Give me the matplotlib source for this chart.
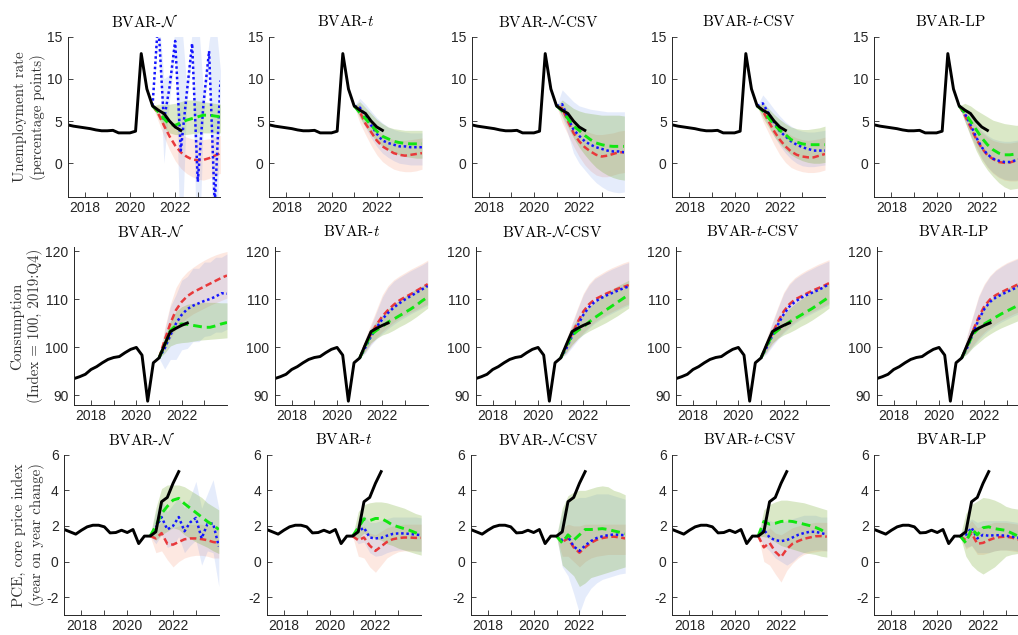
import numpy as np
import matplotlib
matplotlib.use('Agg')
import matplotlib.pyplot as plt
from matplotlib.ticker import FixedLocator

plt.rcParams['mathtext.fontset'] = 'cm'
plt.rcParams['axes.unicode_minus'] = False

models = ['BVAR-N', 'BVAR-t', 'BVAR-N-CSV', 'BVAR-t-CSV', 'BVAR-LP']
titles = [r'BVAR-$\mathcal{N}$', r'BVAR-$t$', r'BVAR-$\mathcal{N}$-CSV', r'BVAR-$t$-CSV', 'BVAR-LP']

# quarterly dates: history 2017.25 .. 2022.25, forecasts 2021.0 .. 2024.0
hist_start = 2017.25
fc_start = 2021.0

unemp_hist = [4.55, 4.4, 4.3, 4.2, 4.1, 3.95, 3.85, 3.85, 3.9, 3.6, 3.6, 3.6, 3.8, 13.0, 8.8, 6.8, 6.3, 5.9, 5.0, 4.3, 3.9]
cons_hist = [93.5, 93.9, 94.4, 95.4, 96.0, 96.8, 97.5, 97.9, 98.1, 98.9, 99.6, 100.0, 98.4, 88.8, 96.8, 97.8, 100.6, 103.3, 104.0, 104.6, 105.1]
pce_hist = [1.8, 1.67, 1.54, 1.76, 1.95, 2.04, 2.04, 1.95, 1.61, 1.63, 1.76, 1.63, 1.8, 1.01, 1.43, 1.43, 1.67, 3.36, 3.6, 4.39, 5.05]

# (median, lower, upper) per model
unemp_red = {
    'BVAR-N': ([6.8, 5.9, 4.5, 3.2, 2.1, 1.3, 0.8, 0.45, 0.35, 0.4, 0.6, 0.9, 1.2],
               [6.8, 5.0, 3.2, 1.6, 0.3, -0.6, -1.2, -1.6, -1.9, -2.0, -1.8, -1.5, -1.2],
               [6.8, 6.8, 5.8, 4.9, 4.1, 3.5, 3.1, 2.9, 2.8, 2.8, 2.9, 3.1, 3.3]),
    'BVAR-t': ([6.8, 6.1, 4.7, 3.7, 2.7, 2.0, 1.6, 1.2, 1.0, 0.9, 1.0, 1.1, 1.2],
               [6.8, 4.8, 3.4, 2.1, 1.0, 0.2, -0.3, -0.7, -0.9, -1.0, -1.0, -0.9, -0.7],
               [6.8, 7.0, 6.0, 5.0, 4.1, 3.5, 3.0, 2.8, 2.7, 2.7, 2.8, 2.9, 3.0]),
    'BVAR-N-CSV': ([6.8, 6.5, 5.0, 3.6, 2.6, 1.9, 1.4, 1.0, 0.8, 0.9, 1.1, 1.3, 1.3],
                   [6.8, 4.8, 3.4, 2.0, 0.8, -0.2, -0.9, -1.4, -1.6, -1.6, -1.4, -1.2, -1.1],
                   [6.8, 7.2, 6.2, 5.2, 4.4, 3.9, 3.6, 3.4, 3.4, 3.5, 3.6, 3.8, 3.9]),
    'BVAR-t-CSV': ([6.8, 6.2, 5.0, 3.8, 2.8, 2.0, 1.4, 1.0, 0.8, 0.7, 0.7, 0.9, 1.1],
                   [6.8, 5.0, 3.6, 2.2, 1.0, 0.1, -0.5, -0.8, -1.0, -1.1, -1.1, -1.0, -0.8],
                   [6.8, 7.0, 6.2, 5.2, 4.4, 3.8, 3.3, 3.0, 2.8, 2.7, 2.8, 2.9, 3.1]),
    'BVAR-LP': ([6.8, 5.7, 4.3, 2.9, 1.8, 0.95, 0.5, 0.15, 0.05, 0.1, 0.3, 0.5, 0.7],
                [6.8, 5.0, 3.3, 1.8, 0.5, -0.5, -1.2, -1.7, -2.0, -2.1, -2.1, -2.0, -1.9],
                [6.8, 6.5, 5.5, 4.5, 3.7, 3.1, 2.7, 2.5, 2.4, 2.4, 2.5, 2.6, 2.7]),
}
unemp_blue = {
    'BVAR-N': ([6.8, 17.0, 5.0, 9.0, 14.5, 1.5, 8.0, 14.2, -2.2, 7.0, 13.3, -5.0, 9.8],
               [6.8, 15.5, 0.0, 7.5, 13.0, -12.0, 6.5, 13.0, -16.0, 5.5, 12.0, -20.0, 8.5],
               [6.8, 18.5, 10.0, 10.5, 16.0, 18.0, 9.5, 15.5, 18.0, 8.5, 14.5, 18.0, 11.0]),
    'BVAR-t': ([6.8, 6.6, 5.7, 4.5, 3.5, 2.7, 2.4, 2.2, 2.0, 2.0, 1.9, 1.9, 1.9],
               [6.8, 5.5, 4.2, 3.0, 2.0, 1.2, 0.7, 0.3, 0.0, -0.1, -0.2, -0.2, -0.2],
               [6.8, 7.7, 7.0, 6.2, 5.4, 4.8, 4.3, 4.0, 3.8, 3.7, 3.6, 3.6, 3.6]),
    'BVAR-N-CSV': ([6.8, 7.0, 5.4, 4.0, 3.25, 2.6, 2.2, 1.9, 1.7, 1.5, 1.4, 1.4, 1.3],
                   [6.8, 5.5, 3.5, 1.2, 0.0, -0.8, -1.6, -2.3, -2.8, -3.2, -3.4, -3.5, -3.4],
                   [6.8, 8.7, 8.0, 7.3, 6.8, 6.6, 6.4, 6.3, 6.2, 6.1, 6.1, 6.1, 6.1]),
    'BVAR-t-CSV': ([6.8, 7.1, 5.95, 4.8, 3.8, 3.2, 2.6, 2.2, 1.9, 1.7, 1.5, 1.5, 1.5],
                   [6.8, 5.8, 4.5, 3.2, 2.1, 1.2, 0.5, 0.0, -0.3, -0.4, -0.4, -0.3, -0.2],
                   [6.8, 8.1, 7.3, 6.4, 5.6, 4.9, 4.4, 4.0, 3.8, 3.7, 3.7, 3.8, 3.9]),
    'BVAR-LP': ([6.8, 5.9, 4.6, 3.1, 1.9, 1.05, 0.55, 0.3, 0.15, 0.15, 0.35, 0.5, 0.7],
                [6.8, 5.0, 3.4, 2.0, 0.6, -0.4, -1.1, -1.6, -1.9, -2.0, -2.0, -1.9, -1.8],
                [6.8, 6.6, 5.6, 4.7, 3.9, 3.3, 2.9, 2.7, 2.6, 2.6, 2.7, 2.8, 2.9]),
}
unemp_green = {
    'BVAR-N': ([6.8, 6.1, 5.3, 4.6, 4.5, 4.8, 5.1, 5.3, 5.5, 5.7, 5.7, 5.6, 5.5],
               [6.8, 5.4, 4.2, 3.6, 3.4, 3.4, 3.4, 3.5, 3.6, 3.6, 3.6, 3.6, 3.6],
               [6.8, 7.0, 7.0, 7.0, 7.1, 7.3, 7.5, 7.5, 7.4, 7.3, 7.2, 7.1, 7.0]),
    'BVAR-t': ([6.8, 6.0, 5.3, 4.5, 3.8, 3.2, 2.9, 2.6, 2.45, 2.35, 2.3, 2.3, 2.3],
               [6.8, 5.4, 4.4, 3.4, 2.6, 2.0, 1.6, 1.2, 1.0, 0.8, 0.7, 0.6, 0.6],
               [6.8, 7.3, 6.6, 5.9, 5.2, 4.7, 4.3, 4.1, 4.0, 3.9, 3.9, 3.9, 3.9]),
    'BVAR-N-CSV': ([6.8, 6.2, 5.3, 4.4, 3.9, 3.3, 2.8, 2.4, 2.2, 2.05, 2.0, 2.0, 2.0],
                   [6.8, 5.6, 4.3, 3.0, 1.9, 1.0, 0.2, -0.5, -1.0, -1.4, -1.7, -1.9, -2.0],
                   [6.8, 7.5, 7.0, 6.5, 6.2, 6.0, 5.9, 5.8, 5.7, 5.7, 5.7, 5.7, 5.6]),
    'BVAR-t-CSV': ([6.8, 6.2, 5.4, 4.6, 3.9, 3.4, 2.8, 2.5, 2.3, 2.2, 2.2, 2.2, 2.2],
                   [6.8, 5.4, 4.3, 3.2, 2.3, 1.6, 1.0, 0.6, 0.3, 0.1, 0.0, 0.0, 0.1],
                   [6.8, 7.2, 6.5, 5.8, 5.2, 4.7, 4.3, 4.1, 4.0, 4.0, 4.1, 4.2, 4.4]),
    'BVAR-LP': ([6.8, 6.0, 5.0, 4.0, 3.0, 2.2, 1.6, 1.2, 1.0, 1.0, 1.1, 1.2, 1.3],
                [6.8, 5.0, 3.2, 1.5, 0.2, -0.8, -1.6, -2.3, -2.8, -3.1, -3.0, -2.9, -2.7],
                [6.8, 7.1, 6.8, 6.3, 5.9, 5.5, 5.1, 4.9, 4.7, 4.6, 4.5, 4.5, 4.5]),
}

cons_red = {
    'BVAR-N': ([97.8, 101.5, 105.0, 107.8, 109.5, 110.7, 111.5, 112.1, 112.7, 113.3, 113.9, 114.5, 115.0],
               [97.8, 99.5, 101.8, 103.8, 105.2, 106.2, 107.0, 107.6, 108.2, 108.8, 109.3, 109.8, 110.3],
               [97.8, 104.0, 109.0, 112.5, 114.5, 115.8, 116.7, 117.5, 118.2, 118.8, 119.3, 119.7, 120.0]),
    'BVAR-t': ([97.8, 100.6, 102.8, 104.8, 106.5, 107.8, 108.9, 109.8, 110.5, 111.1, 111.8, 112.5, 113.2],
               [97.8, 99.0, 100.7, 102.1, 103.3, 104.3, 105.2, 106.0, 106.7, 107.3, 107.9, 108.5, 109.1],
               [97.8, 102.0, 105.0, 108.0, 111.0, 112.9, 114.1, 114.9, 115.6, 116.3, 116.9, 117.5, 118.2]),
    'BVAR-N-CSV': ([97.8, 100.3, 102.8, 105.3, 107.5, 109.0, 110.0, 110.6, 111.2, 111.7, 112.2, 112.6, 113.0],
                   [97.8, 98.8, 100.3, 101.8, 103.1, 104.3, 105.3, 106.1, 106.8, 107.4, 108.0, 108.6, 109.1],
                   [97.8, 101.8, 105.1, 108.3, 111.3, 113.3, 114.6, 115.3, 116.0, 116.6, 117.1, 117.6, 118.0]),
    'BVAR-t-CSV': ([97.8, 100.5, 102.9, 105.4, 107.5, 109.0, 110.0, 110.6, 111.2, 111.8, 112.3, 112.8, 113.4],
                   [97.8, 98.9, 100.5, 102.0, 103.3, 104.4, 105.3, 106.1, 106.8, 107.4, 108.0, 108.6, 109.2],
                   [97.8, 102.0, 105.3, 108.5, 111.5, 113.4, 114.6, 115.4, 116.1, 116.7, 117.3, 117.8, 118.3]),
    'BVAR-LP': ([97.8, 100.5, 103.5, 106.3, 108.6, 110.0, 110.9, 111.5, 112.1, 112.6, 113.2, 113.7, 114.2],
                [97.8, 98.9, 100.5, 102.0, 103.2, 104.2, 105.0, 105.7, 106.3, 106.9, 107.4, 108.0, 108.5],
                [97.8, 102.8, 106.8, 110.8, 113.3, 115.0, 116.2, 117.0, 117.7, 118.2, 118.7, 119.2, 119.6]),
}
cons_blue = {
    'BVAR-N': ([97.8, 99.8, 102.5, 105.0, 106.8, 108.0, 108.7, 109.2, 109.7, 110.1, 110.6, 111.3, 111.2],
               [97.8, 95.5, 97.5, 97.5, 99.5, 99.8, 101.2, 101.2, 102.3, 102.5, 103.2, 103.2, 103.8],
               [97.8, 103.5, 108.5, 111.0, 114.0, 114.8, 116.5, 116.5, 117.8, 117.8, 118.8, 118.8, 119.5]),
    'BVAR-t': ([97.8, 100.0, 102.3, 104.2, 105.9, 107.2, 108.3, 109.2, 110.0, 110.7, 111.4, 112.1, 112.8],
               [97.8, 98.8, 100.5, 101.8, 102.9, 103.9, 104.8, 105.6, 106.3, 107.0, 107.6, 108.2, 108.8],
               [97.8, 101.5, 104.5, 107.5, 110.5, 112.5, 113.8, 114.6, 115.3, 116.0, 116.6, 117.2, 117.9]),
    'BVAR-N-CSV': ([97.8, 99.8, 102.3, 104.6, 106.8, 108.4, 109.5, 110.2, 110.8, 111.3, 111.8, 112.3, 112.7],
                   [97.8, 98.5, 100.0, 101.5, 102.8, 104.0, 105.0, 105.8, 106.5, 107.1, 107.7, 108.3, 108.8],
                   [97.8, 101.5, 104.8, 108.0, 111.0, 113.0, 114.3, 115.0, 115.7, 116.3, 116.8, 117.3, 117.7]),
    'BVAR-t-CSV': ([97.8, 100.0, 102.4, 104.8, 106.9, 108.5, 109.5, 110.3, 110.9, 111.4, 111.9, 112.5, 113.2],
                   [97.8, 98.6, 100.2, 101.7, 103.0, 104.1, 105.0, 105.8, 106.5, 107.1, 107.7, 108.3, 108.9],
                   [97.8, 101.7, 105.0, 108.2, 111.2, 113.1, 114.3, 115.1, 115.8, 116.4, 117.0, 117.5, 118.0]),
    'BVAR-LP': ([97.8, 100.0, 103.0, 105.8, 108.0, 109.5, 110.4, 111.0, 111.6, 112.1, 112.7, 113.2, 113.7],
                [97.8, 98.7, 100.2, 101.6, 102.8, 103.8, 104.6, 105.3, 105.9, 106.5, 107.0, 107.6, 108.1],
                [97.8, 102.5, 106.5, 110.5, 113.0, 114.8, 116.0, 116.8, 117.5, 118.0, 118.5, 119.0, 119.4]),
}
cons_green = {
    'BVAR-N': ([97.8, 100.5, 103.5, 104.6, 104.9, 104.8, 104.6, 104.4, 104.2, 104.2, 104.5, 104.9, 105.2],
               [97.8, 98.8, 100.3, 100.8, 101.0, 101.1, 101.3, 101.5, 101.6, 101.7, 101.8, 101.9, 102.0],
               [97.8, 102.0, 105.5, 107.5, 108.5, 109.0, 109.2, 109.3, 109.4, 109.4, 109.4, 109.3, 109.3]),
    'BVAR-t': ([97.8, 100.3, 102.7, 103.6, 104.4, 105.3, 105.9, 106.6, 107.3, 108.0, 108.8, 109.7, 110.5],
               [97.8, 99.3, 101.0, 101.9, 102.6, 103.0, 103.6, 104.3, 104.9, 105.6, 106.4, 107.3, 108.2],
               [97.8, 101.5, 104.0, 105.5, 106.8, 108.0, 109.0, 109.9, 110.7, 111.5, 112.2, 112.8, 113.4]),
    'BVAR-N-CSV': ([97.8, 100.3, 102.5, 103.5, 104.3, 105.3, 106.2, 107.0, 107.8, 108.6, 109.4, 110.2, 111.0],
                   [97.8, 99.0, 100.6, 101.8, 102.7, 103.4, 104.0, 104.6, 105.2, 105.9, 106.6, 107.4, 108.2],
                   [97.8, 101.5, 104.3, 106.0, 107.4, 108.5, 109.5, 110.5, 111.3, 112.1, 112.8, 113.4, 114.0]),
    'BVAR-t-CSV': ([97.8, 100.3, 102.6, 103.6, 104.5, 105.3, 106.0, 106.7, 107.4, 108.1, 108.9, 109.7, 110.5],
                   [97.8, 99.2, 100.9, 101.9, 102.6, 103.1, 103.7, 104.4, 105.0, 105.7, 106.5, 107.3, 108.2],
                   [97.8, 101.5, 104.0, 105.6, 106.9, 108.1, 109.1, 110.0, 110.8, 111.6, 112.3, 112.9, 113.5]),
    'BVAR-LP': ([97.8, 100.3, 102.8, 104.0, 104.9, 105.6, 106.3, 107.0, 107.6, 108.2, 108.8, 109.4, 110.0],
                [97.8, 98.7, 100.0, 101.0, 102.0, 102.8, 103.5, 104.1, 104.6, 105.1, 105.6, 106.1, 106.5],
                [97.8, 101.5, 104.5, 106.8, 108.6, 109.8, 110.8, 111.6, 112.3, 113.0, 113.6, 114.2, 114.8]),
}

pce_red = {
    'BVAR-N': ([1.43, 1.3, 1.6, 1.0, 0.95, 1.1, 1.25, 1.3, 1.3, 1.26, 1.2, 1.1, 1.05],
               [1.43, 0.5, 0.6, 0.1, -0.3, 0.0, 0.2, 0.3, 0.35, 0.35, 0.3, 0.2, 0.2],
               [1.43, 1.9, 2.2, 2.0, 1.9, 2.0, 2.1, 2.1, 2.1, 2.1, 2.0, 2.0, 1.9]),
    'BVAR-t': ([1.43, 1.2, 1.35, 0.9, 0.6, 0.85, 1.1, 1.25, 1.32, 1.35, 1.35, 1.33, 1.33],
               [1.43, 0.3, 0.2, -0.3, -0.6, -0.2, 0.2, 0.4, 0.55, 0.6, 0.6, 0.6, 0.6],
               [1.43, 1.8, 2.0, 1.6, 1.5, 1.7, 1.9, 2.0, 2.05, 2.1, 2.1, 2.1, 2.1]),
    'BVAR-N-CSV': ([1.43, 1.1, 1.3, 0.8, 0.5, 0.8, 1.05, 1.22, 1.32, 1.38, 1.4, 1.36, 1.3],
                   [1.43, 0.3, 0.3, 0.0, -0.3, 0.0, 0.2, 0.3, 0.35, 0.4, 0.4, 0.4, 0.4],
                   [1.43, 1.9, 2.1, 2.0, 2.0, 2.1, 2.1, 2.1, 2.1, 2.1, 2.1, 2.1, 2.1]),
    'BVAR-t-CSV': ([1.43, 0.8, 1.05, 0.55, 0.25, 0.7, 1.0, 1.15, 1.28, 1.35, 1.42, 1.43, 1.4],
                   [1.43, 0.0, -0.2, -0.7, -1.15, -0.5, -0.1, 0.2, 0.4, 0.5, 0.55, 0.6, 0.6],
                   [1.43, 1.6, 1.9, 1.6, 1.5, 1.7, 1.9, 2.0, 2.1, 2.15, 2.2, 2.2, 2.2]),
    'BVAR-LP': ([1.43, 1.2, 1.6, 1.0, 1.05, 1.2, 1.32, 1.38, 1.4, 1.35, 1.25, 1.2, 1.15],
                [1.43, 0.7, 0.9, 0.4, 0.4, 0.5, 0.6, 0.65, 0.65, 0.6, 0.55, 0.5, 0.45],
                [1.43, 1.9, 2.3, 1.9, 2.0, 2.1, 2.2, 2.2, 2.2, 2.15, 2.1, 2.05, 2.0]),
}
pce_blue = {
    'BVAR-N': ([1.43, 1.9, 2.5, 1.8, 2.0, 2.5, 1.7, 2.2, 2.45, 1.3, 2.1, 2.15, 0.85],
               [1.43, 1.0, 1.5, 0.8, 0.9, 1.4, 0.5, 0.9, 1.2, -0.2, 0.6, 0.5, -1.4],
               [1.43, 2.8, 3.5, 2.8, 3.2, 3.6, 3.0, 3.6, 4.5, 3.0, 3.8, 4.6, 3.0]),
    'BVAR-t': ([1.43, 1.7, 1.9, 1.35, 1.3, 1.33, 1.45, 1.55, 1.58, 1.58, 1.55, 1.52, 1.48],
               [1.43, 1.0, 1.1, 0.5, 0.3, 0.35, 0.5, 0.6, 0.65, 0.65, 0.65, 0.6, 0.55],
               [1.43, 2.3, 2.6, 2.2, 2.2, 2.3, 2.4, 2.5, 2.5, 2.5, 2.5, 2.5, 2.45]),
    'BVAR-N-CSV': ([1.43, 1.2, 1.4, 0.85, 0.6, 0.9, 1.15, 1.32, 1.42, 1.48, 1.52, 1.5, 1.48],
                   [1.43, -0.3, -0.8, -1.8, -2.9, -2.0, -1.5, -1.2, -1.0, -0.9, -0.8, -0.7, -0.65],
                   [1.43, 2.8, 3.3, 3.5, 3.6, 3.6, 3.7, 3.8, 3.8, 3.8, 3.7, 3.6, 3.5]),
    'BVAR-t-CSV': ([1.43, 1.8, 1.35, 1.2, 1.15, 1.2, 1.35, 1.5, 1.6, 1.67, 1.67, 1.6, 1.52],
                   [1.43, 0.9, 0.6, 0.2, 0.0, -0.2, 0.0, 0.3, 0.5, 0.6, 0.65, 0.65, 0.6],
                   [1.43, 2.5, 2.3, 2.2, 2.2, 2.3, 2.4, 2.5, 2.6, 2.6, 2.6, 2.5, 2.5]),
    'BVAR-LP': ([1.43, 1.5, 1.9, 1.3, 1.5, 1.45, 1.48, 1.48, 1.45, 1.4, 1.35, 1.3, 1.28],
                [1.43, 0.8, 0.9, 0.5, 0.5, 0.5, 0.6, 0.65, 0.65, 0.65, 0.6, 0.55, 0.5],
                [1.43, 2.1, 2.4, 2.2, 2.3, 2.3, 2.3, 2.3, 2.3, 2.25, 2.2, 2.15, 2.1]),
}
pce_green = {
    'BVAR-N': ([1.43, 2.0, 2.7, 3.1, 3.45, 3.55, 3.25, 3.0, 2.75, 2.5, 2.25, 2.05, 1.8],
               [1.43, 1.2, 1.5, 1.7, 1.9, 1.8, 1.5, 1.3, 1.1, 0.95, 0.8, 0.6, 0.45],
               [1.43, 3.0, 4.1, 4.3, 4.3, 4.3, 4.2, 4.0, 3.8, 3.6, 3.3, 3.1, 2.9]),
    'BVAR-t': ([1.43, 1.9, 2.4, 2.3, 2.42, 2.42, 2.25, 2.05, 1.95, 1.85, 1.75, 1.62, 1.5],
               [1.43, 1.3, 1.6, 1.4, 1.3, 1.2, 1.0, 0.9, 0.75, 0.65, 0.55, 0.45, 0.36],
               [1.43, 2.8, 3.2, 3.3, 3.35, 3.35, 3.3, 3.2, 3.1, 3.0, 2.85, 2.7, 2.6]),
    'BVAR-N-CSV': ([1.43, 1.05, 1.5, 1.2, 1.5, 1.8, 1.8, 1.82, 1.85, 1.8, 1.72, 1.65, 1.58],
                   [1.43, -0.2, -0.5, -0.8, -1.4, -1.2, -0.9, -0.8, -0.7, -0.6, -0.5, -0.4, -0.3],
                   [1.43, 3.0, 3.7, 3.9, 4.0, 4.0, 4.1, 4.2, 4.25, 4.2, 4.0, 3.9, 3.75]),
    'BVAR-t-CSV': ([1.43, 2.25, 2.1, 2.15, 2.25, 2.28, 2.25, 2.18, 2.1, 2.02, 1.92, 1.78, 1.58],
                   [1.43, 1.4, 1.3, 1.1, 0.9, 0.8, 0.7, 0.6, 0.5, 0.45, 0.4, 0.3, 0.25],
                   [1.43, 2.9, 3.2, 3.35, 3.45, 3.45, 3.4, 3.35, 3.3, 3.2, 3.1, 3.0, 2.9]),
    'BVAR-LP': ([1.43, 1.05, 1.85, 1.5, 1.9, 1.95, 1.85, 1.8, 1.75, 1.6, 1.45, 1.35, 1.3],
                [1.43, 0.3, -0.2, -0.5, -0.7, -0.5, -0.3, 0.0, 0.3, 0.4, 0.45, 0.5, 0.5],
                [1.43, 2.7, 3.2, 3.4, 3.6, 3.55, 3.45, 3.3, 3.1, 3.0, 2.95, 2.9, 2.85]),
}

rows = [
    dict(hist=unemp_hist, red=unemp_red, blue=unemp_blue, green=unemp_green,
         ylim=(-4, 15), yticks=[0, 5, 10, 15],
         ylabel='Unemployment rate\n(percentage points)'),
    dict(hist=cons_hist, red=cons_red, blue=cons_blue, green=cons_green,
         ylim=(88, 121), yticks=[90, 100, 110, 120],
         ylabel='Consumption\n(Index = 100, 2019:Q4)'),
    dict(hist=pce_hist, red=pce_red, blue=pce_blue, green=pce_green,
         ylim=(-3, 6), yticks=[-2, 0, 2, 4, 6],
         ylabel='PCE, core price index\n(year on year change)'),
]

# axes placement in pixels (figure is 1018 x 635)
W, H = 1018, 635
row_lefts = [[67.7, 269.3, 471.7, 672.3, 874.3],
             [74.0, 274.7, 475.7, 676.0, 876.7],
             [64.3, 266.7, 470.7, 672.3, 874.3]]
row_widths = [152.7, 153.0, 154.5]
row_tops = [36.7, 246.7, 454.7]
row_bottoms = [197.0, 405.0, 615.0]
label_x = [-0.14, -0.20, -0.128]

RED, BLUE, GREEN = '#e8393b', '#1414ff', '#11e611'
RED_BAND, BLUE_BAND, GREEN_BAND = '#f46a3a', '#4d79e8', '#77ac30'
AXC = '#262626'

fig = plt.figure(figsize=(W / 100, H / 100), dpi=100)

for r, row in enumerate(rows):
    for c, m in enumerate(models):
        left = row_lefts[r][c] / W
        bottom = 1 - row_bottoms[r] / H
        ax = fig.add_axes([left, bottom, row_widths[r] / W, (row_bottoms[r] - row_tops[r]) / H])

        th = hist_start + 0.25 * np.arange(len(row['hist']))
        mid_r, lo_r, hi_r = row['red'][m]
        mid_b, lo_b, hi_b = row['blue'][m]
        mid_g, lo_g, hi_g = row['green'][m]
        tf = fc_start + 0.25 * np.arange(len(mid_r))

        ax.fill_between(tf, lo_r, hi_r, color=RED_BAND, alpha=0.15, lw=0)
        ax.fill_between(tf, lo_b, hi_b, color=BLUE_BAND, alpha=0.14, lw=0)
        ax.fill_between(tf, lo_g, hi_g, color=GREEN_BAND, alpha=0.27, lw=0)

        ax.plot(tf, mid_r, color=RED, lw=1.8, dashes=(2.6, 1.4))
        ax.plot(tf, mid_b, color=BLUE, lw=1.8, dashes=(1.0, 1.1))
        ax.plot(tf, mid_g, color=GREEN, lw=2.1, dashes=(3.0, 1.7))
        ax.plot(th, row['hist'], color='k', lw=2.1, solid_joinstyle='round')

        ax.set_xlim(2017.25, 2024.0)
        ax.set_ylim(*row['ylim'])
        ax.xaxis.set_major_locator(FixedLocator([2018, 2020, 2022]))
        ax.xaxis.set_minor_locator(FixedLocator([2019, 2021, 2023]))
        ax.set_yticks(row['yticks'])
        ax.tick_params(which='both', direction='in', length=3.5, width=0.6,
                       color=AXC, labelcolor=AXC, labelsize=10)
        ax.tick_params(axis='y', pad=4)
        ax.tick_params(axis='x', pad=3)
        for lab in ax.get_xticklabels() + ax.get_yticklabels():
            lab.set_fontfamily('Liberation Sans')
        for s in ['top', 'right']:
            ax.spines[s].set_visible(False)
        for s in ['left', 'bottom']:
            ax.spines[s].set_color(AXC)
            ax.spines[s].set_linewidth(0.7)

        ax.set_title(titles[c], fontfamily='cmr10', fontsize=11, pad=7.5)
        if c == 0:
            ax.set_ylabel(row['ylabel'], fontfamily='cmr10', fontsize=10.8,
                          linespacing=1.25, color='#333333')
            ax.yaxis.set_label_coords(label_x[r], 0.5)

fig.savefig('out.png', dpi=100, facecolor='white')
